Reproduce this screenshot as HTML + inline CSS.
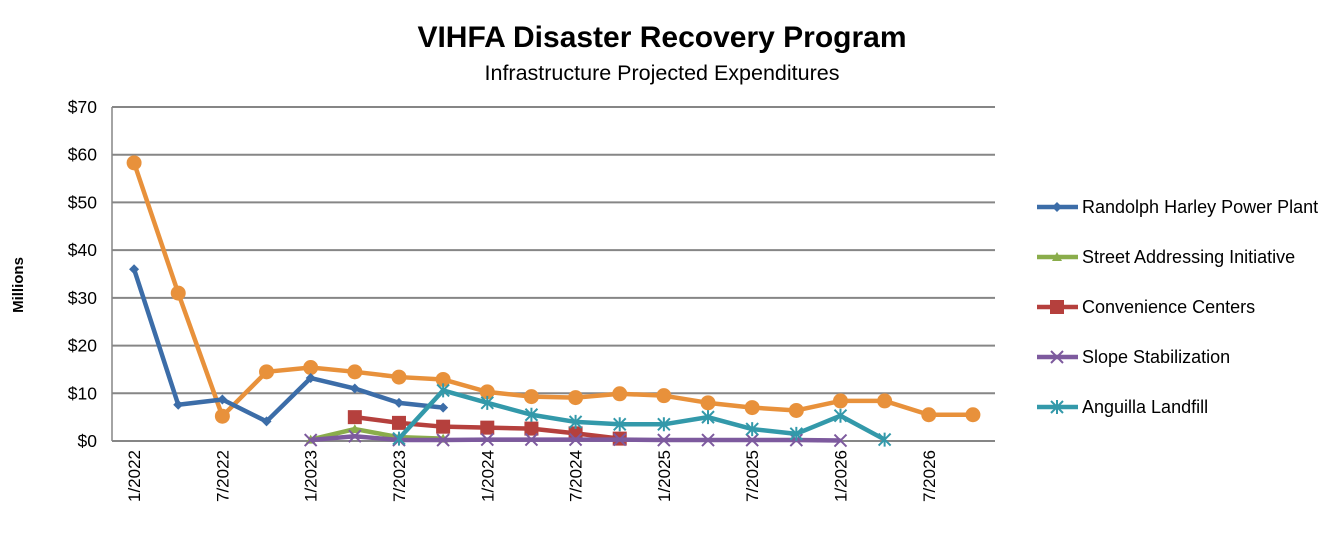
<!DOCTYPE html>
<html><head><meta charset="utf-8"><style>
body{margin:0;background:#fff;font-family:"Liberation Sans",sans-serif}
svg text{font-family:"Liberation Sans",sans-serif}
</style></head><body>
<svg id="chart" width="1325" height="552">
<text x="662" y="47" text-anchor="middle" font-size="30" font-weight="bold">VIHFA Disaster Recovery Program</text>
<text x="662" y="80" text-anchor="middle" font-size="21.5">Infrastructure Projected Expenditures</text>
<text x="23" y="285" text-anchor="middle" font-size="15" font-weight="bold" transform="rotate(-90 23 285)">Millions</text>
<g id="grid"></g><g id="series"></g><g id="legend"></g>
</svg>
<script>
const categories=["1/2022","4/2022","7/2022","10/2022","1/2023","4/2023","7/2023","10/2023","1/2024","4/2024","7/2024","10/2024","1/2025","4/2025","7/2025","10/2025","1/2026","4/2026","7/2026","10/2026"];
const yTicks=[0,10,20,30,40,50,60,70];
const seriesNames=["Randolph Harley Power Plant","Street Addressing Initiative","Convenience Centers","Slope Stabilization","Anguilla Landfill"];
const randolph=[36,7.6,8.7,4.1,13.2,11,8,7,null,null,null,null,null,null,null,null,null,null,null,null];
const street=[null,null,null,null,0.3,2.5,0.8,0.5,null,null,null,null,null,null,null,null,null,null,null,null];
const convenience=[null,null,null,null,null,5,3.8,3,2.8,2.6,1.6,0.5,null,null,null,null,null,null,null,null];
const slope=[null,null,null,null,0.2,1,0.2,0.2,0.3,0.3,0.3,0.3,0.2,0.2,0.2,0.2,0.1,null,null,null];
const landfill=[null,null,null,null,null,null,0.5,10.6,8,5.5,4,3.5,3.5,5,2.5,1.5,5.3,0.3,null,null];
const total=[58.3,31,5.2,14.5,15.4,14.5,13.4,12.9,10.3,9.3,9.1,9.9,9.5,8,7,6.4,8.4,8.4,5.5,5.5];
const NS="http://www.w3.org/2000/svg";
const L=112,R=995,T=107,B=441;
const x=i=>L+(R-L)/categories.length*(i+0.5);
const y=v=>B-(B-T)*v/70;
function mk(tag,attrs,parent){const e=document.createElementNS(NS,tag);for(const k in attrs)e.setAttribute(k,attrs[k]);parent.appendChild(e);return e;}
const grid=document.getElementById('grid');
yTicks.forEach(t=>{
  const ln=mk('line',{x1:L,x2:R,y1:y(t),y2:y(t),stroke:'#868686','stroke-width':2},grid);
  
  
  const tx=mk('text',{x:97,y:y(t)+6,'text-anchor':'end','font-size':17.5},grid);tx.textContent='$'+t;
  
  
});
const ax=mk('line',{x1:L,x2:L,y1:T,y2:B,stroke:'#868686','stroke-width':1.5},grid);


categories.forEach((c,i)=>{
  if(i%2)return;
  const tx=mk('text',{x:x(i)+6,y:450,'text-anchor':'end','font-size':17,transform:`rotate(-90 ${x(i)+6} 450)`},grid);tx.textContent=c;
  
  
});
const sg=document.getElementById('series');
function marker(type,cx,cy,col,g){
  if(type==='circle')return mk('circle',{cx,cy,r:7.5,fill:col},g);
  if(type==='diamond')return mk('polygon',{points:`${cx},${cy-5} ${cx+5},${cy} ${cx},${cy+5} ${cx-5},${cy}`,fill:col},g);
  if(type==='tri')return mk('polygon',{points:`${cx},${cy-5} ${cx+5},${cy+4} ${cx-5},${cy+4}`,fill:col},g);
  if(type==='square')return mk('rect',{x:cx-7,y:cy-7,width:14,height:14,fill:col},g);
  if(type==='x')return mk('path',{d:`M${cx-6} ${cy-6}L${cx+6} ${cy+6}M${cx-6} ${cy+6}L${cx+6} ${cy-6}`,stroke:col,'stroke-width':2},g);
  if(type==='star')return mk('path',{d:`M${cx-6} ${cy-6}L${cx+6} ${cy+6}M${cx-6} ${cy+6}L${cx+6} ${cy-6}M${cx} ${cy-7}V${cy+7}`,stroke:col,'stroke-width':2},g);
}
function draw(data,col,type,name){
  const g=mk('g',{},sg);
  
  
  const pts=[];data.forEach((v,i)=>{if(v!==null)pts.push([x(i),y(v)]);});
  mk('polyline',{points:pts.map(p=>p.join(',')).join(' '),fill:'none',stroke:col,'stroke-width':4.5,'stroke-linejoin':'round'},g);
  pts.forEach(p=>{const m=marker(type,p[0],p[1],col,g);
    
    });
}
draw(total,'#E8913B','circle','series-total');
draw(randolph,'#3C6DA8','diamond','series-randolph');
draw(street,'#8AAD4B','tri','series-street');
draw(convenience,'#B5403D','square','series-convenience');
draw(slope,'#7D5A9E','x','series-slope');
draw(landfill,'#3399AA','star','series-landfill');
const lg=document.getElementById('legend');
const cols=['#3C6DA8','#8AAD4B','#B5403D','#7D5A9E','#3399AA'];
const types=['diamond','tri','square','x','star'];
seriesNames.forEach((n,i)=>{
  const yy=207+i*50;
  const g=mk('g',{},lg);
  
  
  mk('line',{x1:1037,x2:1078,y1:yy,y2:yy,stroke:cols[i],'stroke-width':4.5},g);
  marker(types[i],1057,yy,cols[i],g);
  const t=mk('text',{x:1082,y:yy+6,'font-size':18},g);t.textContent=n;
});
</script>
</body></html>
